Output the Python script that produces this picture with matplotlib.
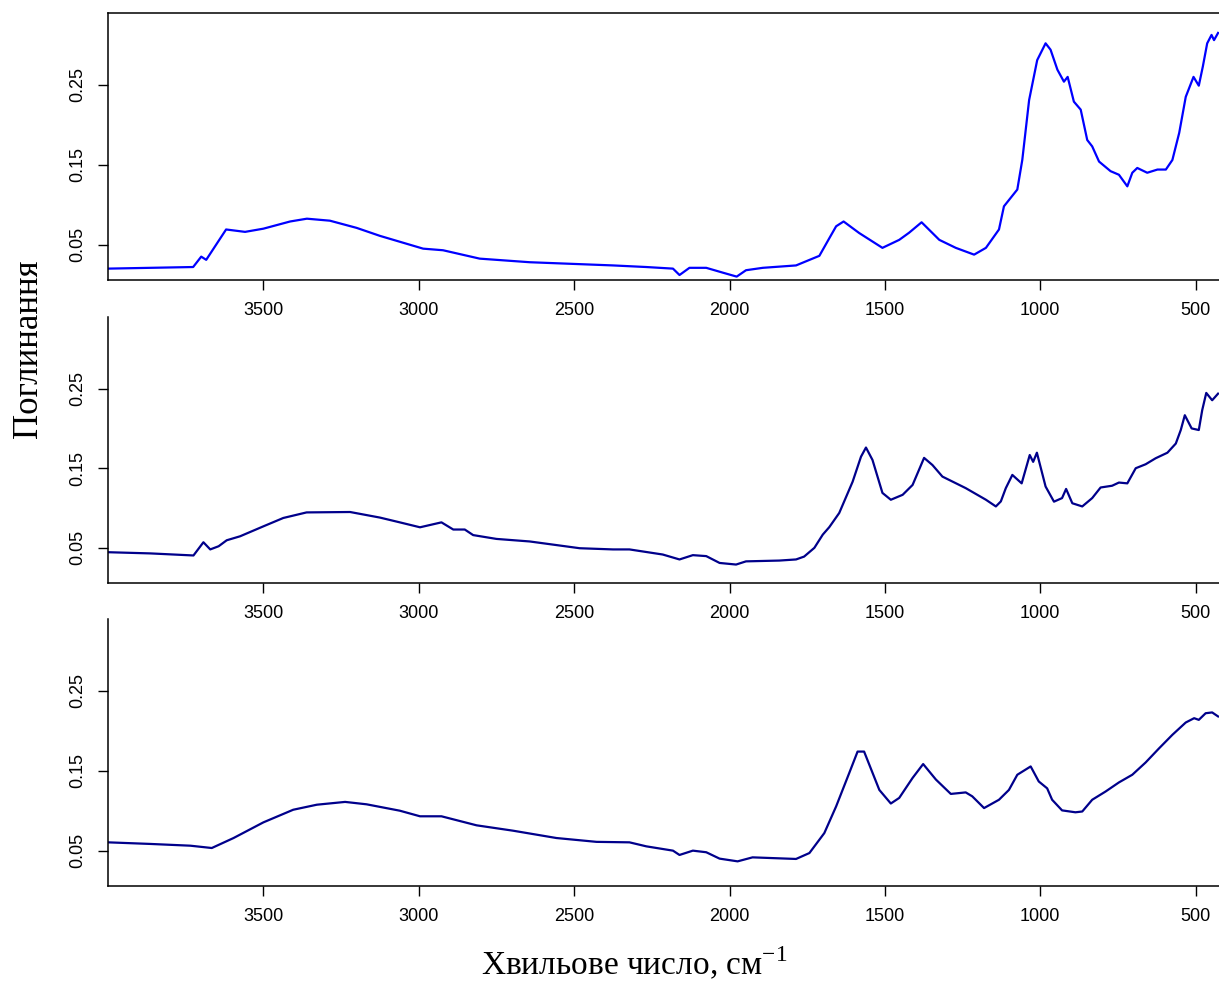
import matplotlib
matplotlib.use("Agg")
import matplotlib.pyplot as plt
import numpy as np

# wavenumber (cm-1) and absorbance
wn_top = [4000, 3864, 3726, 3700, 3684, 3620, 3559, 3500, 3414, 3360, 3286, 3200, 3125,
          2986, 2922, 2804, 2643, 2375, 2268, 2182, 2161, 2129, 2075, 2022, 1977, 1947,
          1893, 1786, 1733, 1711, 1679, 1657, 1633, 1583, 1508, 1454, 1422, 1382, 1325,
          1272, 1213, 1175, 1133, 1117, 1074, 1058, 1036, 1010, 983, 967, 945, 924, 912,
          892, 870, 849, 833, 811, 774, 747, 720, 704, 688, 656, 623, 596, 575, 553, 532,
          507, 490, 477, 463, 449, 441, 428]
abs_top = [0.020, 0.021, 0.022, 0.035, 0.031, 0.069, 0.066, 0.070, 0.079, 0.0825, 0.080,
           0.071, 0.061, 0.045, 0.043, 0.0325, 0.028, 0.024, 0.022, 0.020, 0.012, 0.021,
           0.021, 0.015, 0.010, 0.018, 0.021, 0.024, 0.0325, 0.036, 0.058, 0.073, 0.079,
           0.0646, 0.046, 0.056, 0.065, 0.078, 0.056, 0.046, 0.0375, 0.046, 0.069, 0.098,
           0.119, 0.156, 0.231, 0.281, 0.302, 0.294, 0.269, 0.254, 0.260, 0.229, 0.219,
           0.181, 0.173, 0.154, 0.142, 0.1375, 0.123, 0.140, 0.146, 0.140, 0.144, 0.144,
           0.156, 0.190, 0.235, 0.260, 0.249, 0.273, 0.302, 0.3125, 0.306, 0.315]

wn_mid = [4000, 3864, 3725, 3693, 3671, 3644, 3618, 3575, 3500, 3436, 3361, 3221, 3125,
          3061, 2996, 2927, 2889, 2852, 2825, 2750, 2643, 2482, 2375, 2322, 2215, 2161,
          2118, 2075, 2032, 1979, 1947, 1840, 1786, 1760, 1727, 1700, 1679, 1647, 1604,
          1577, 1561, 1540, 1508, 1481, 1443, 1411, 1374, 1347, 1315, 1240, 1175, 1143,
          1127, 1111, 1090, 1060, 1034, 1023, 1011, 983, 956, 930, 917, 897, 865, 833,
          806, 769, 747, 720, 693, 661, 629, 591, 564, 548, 535, 513, 490, 479, 466, 447,
          428]
abs_mid = [0.0445, 0.043, 0.0404, 0.057, 0.048, 0.052, 0.0595, 0.0645, 0.077, 0.0875,
           0.0945, 0.095, 0.088, 0.082, 0.0758, 0.082, 0.073, 0.073, 0.066, 0.0612, 0.058,
           0.0495, 0.048, 0.048, 0.0416, 0.0354, 0.0408, 0.0396, 0.031, 0.029, 0.033, 0.034,
           0.0354, 0.039, 0.050, 0.0666, 0.076, 0.0938, 0.133, 0.1645, 0.176, 0.1604,
           0.119, 0.1104, 0.1166, 0.129, 0.163, 0.154, 0.1395, 0.125, 0.1104, 0.102,
           0.1083, 0.125, 0.1416, 0.131, 0.1666, 0.158, 0.1695, 0.127, 0.108, 0.1125,
           0.124, 0.106, 0.102, 0.1125, 0.1258, 0.128, 0.132, 0.131, 0.150, 0.155, 0.1625,
           0.1695, 0.181, 0.198, 0.2166, 0.200, 0.198, 0.223, 0.2446, 0.2354, 0.2437]

wn_bot = [4000, 3864, 3735, 3666, 3596, 3500, 3404, 3328, 3237, 3168, 3061, 2996, 2927,
          2814, 2697, 2557, 2428, 2322, 2268, 2182, 2161, 2118, 2075, 2032, 1974, 1926,
          1786, 1743, 1695, 1657, 1615, 1588, 1567, 1518, 1481, 1454, 1411, 1377, 1336,
          1288, 1240, 1219, 1181, 1133, 1101, 1074, 1031, 1005, 978, 962, 930, 887, 865,
          833, 790, 747, 704, 661, 618, 575, 532, 505, 490, 468, 447, 428]
abs_bot = [0.0604, 0.0584, 0.0562, 0.0533, 0.0658, 0.0854, 0.1012, 0.1075, 0.111, 0.108,
           0.100, 0.093, 0.093, 0.0817, 0.075, 0.0658, 0.061, 0.0604, 0.0554, 0.050,
           0.0446, 0.050, 0.048, 0.040, 0.0366, 0.0416, 0.0396, 0.047, 0.072, 0.1054,
           0.147, 0.174, 0.174, 0.126, 0.109, 0.116, 0.141, 0.1584, 0.139, 0.121, 0.1229,
           0.118, 0.1033, 0.1137, 0.126, 0.145, 0.1554, 0.1366, 0.128, 0.1137, 0.1004,
           0.098, 0.099, 0.1137, 0.124, 0.1354, 0.145, 0.1604, 0.178, 0.195, 0.2104,
           0.2158, 0.2137, 0.222, 0.223, 0.218]

x_ticks = [3500, 3000, 2500, 2000, 1500, 1000, 500]
y_ticks = [0.05, 0.15, 0.25]

spectra = [(wn_top, abs_top, "#0000FF"),
           (wn_mid, abs_mid, "#00008B"),
           (wn_bot, abs_bot, "#00008B")]

plt.rcParams['mathtext.fontset'] = 'custom'
plt.rcParams['mathtext.rm'] = 'Liberation Serif'

fig = plt.figure(figsize=(12.19, 9.82), dpi=100)

# [left, bottom, width, height] of each panel
boxes = [[0.0886, 0.7149, 0.9114, 0.2719],
         [0.0886, 0.4063, 0.9114, 0.2709],
         [0.0886, 0.0978, 0.9114, 0.2719]]

for i, (wn, ab, col) in enumerate(spectra):
    ax = fig.add_axes(boxes[i])
    ax.plot(wn, ab, color=col, lw=1.6)
    ax.set_xlim(4000, 425)
    ax.set_ylim(0.0058, 0.34)
    ax.set_xticks(x_ticks)
    ax.set_yticks(y_ticks)
    ax.set_yticklabels(["0.05", "0.15", "0.25"])
    ax.tick_params(axis='both', direction='out', length=7, width=1.0,
                   labelsize=13, colors='black')
    ax.tick_params(axis='x', pad=9)
    ax.tick_params(axis='y', pad=9)
    for lab in ax.get_yticklabels():
        lab.set_rotation(90)
        lab.set_va('center')
    for lab in ax.get_xticklabels() + ax.get_yticklabels():
        lab.set_family('Liberation Sans')
    ax.spines['right'].set_visible(False)
    ax.spines['top'].set_visible(i == 0)
    for s in ax.spines.values():
        s.set_linewidth(1.1)

fig.text(0.023, 0.645, "Поглинання", rotation=90, ha='center', va='center',
         family='Liberation Serif', fontsize=25)
fig.text(0.52, 0.0, "Хвильове число, см$^{-1}$", ha='center', va='bottom',
         family='Liberation Serif', fontsize=24)

fig.savefig("out.png", dpi=100)
